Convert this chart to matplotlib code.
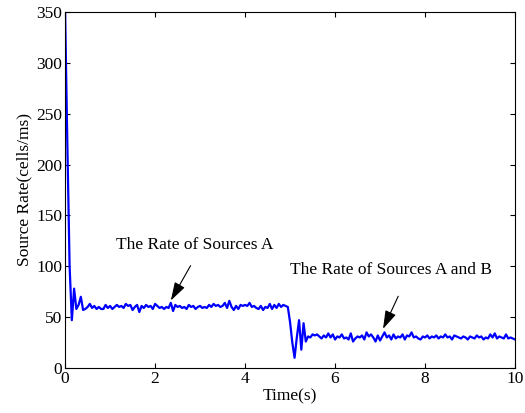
#!/usr/bin/env python3

import numpy as np
import matplotlib
matplotlib.use("Agg")
import matplotlib.pyplot as plt


# sampled every 0.05 s from 0 to 10 s
DT = 0.05
RATE = [
    350, 220, 100, 47, 78, 58, 62, 70, 57, 58,
    60, 63, 59, 61, 58, 60, 58, 58, 62, 59,
    61, 58, 60, 62, 60, 61, 59, 63, 61, 62,
    57, 60, 62, 55, 61, 59, 62, 60, 61, 58,
    63, 61, 59, 60, 58, 60, 59, 64, 56, 62,
    60, 61, 59, 60, 58, 62, 60, 61, 58, 60,
    61, 59, 60, 59, 62, 60, 63, 61, 62, 60,
    61, 64, 59, 66, 60, 57, 61, 58, 62, 61,
    62, 61, 64, 60, 61, 59, 58, 61, 57, 60,
    59, 63, 58, 62, 59, 63, 60, 62, 61, 60,
    45, 25, 10, 30, 47, 18, 44, 26, 31, 30,
    33, 32, 33, 31, 29, 32, 30, 34, 30, 33,
    28, 31, 30, 33, 29, 30, 28, 34, 26, 29,
    31, 30, 32, 28, 35, 31, 33, 30, 26, 32,
    27, 31, 35, 30, 32, 28, 33, 29, 31, 30,
    33, 28, 32, 31, 35, 30, 31, 29, 28, 31,
    30, 32, 29, 31, 30, 32, 29, 31, 30, 33,
    30, 31, 28, 32, 31, 30, 29, 31, 30, 28,
    31, 30, 29, 32, 30, 31, 28, 30, 29, 33,
    30, 34, 29, 31, 30, 29, 33, 29, 30, 29,
    28,
]

LABEL_A = "The Rate of Sources A"
LABEL_AB = "The Rate of Sources A and B"
# (text position, arrow tail, arrow head) in data units
NOTE_A = ((2.87, 121), (2.82, 103), (2.32, 64))
NOTE_AB = ((7.24, 96), (7.43, 73), (7.04, 36))


def main():
    plt.rcParams["font.family"] = ["Liberation Serif", "DejaVu Serif"]
    plt.rcParams["font.size"] = 12.5

    t = np.arange(len(RATE)) * DT

    fig = plt.figure(figsize=(5.25, 4.13), dpi=100)
    ax = fig.add_axes([0.124, 0.109, 0.857, 0.862])
    ax.plot(t, RATE, color="#0000ff", lw=1.6)

    for label, (pos, tail, head) in [(LABEL_A, NOTE_A), (LABEL_AB, NOTE_AB)]:
        ax.text(pos[0], pos[1], label, ha="center", va="center")
        ax.annotate("", xy=head, xytext=tail,
                    arrowprops=dict(arrowstyle="-|>,head_length=0.8,head_width=0.25",
                                    color="k", lw=0.8, mutation_scale=14))

    ax.set_xlim(0, 10)
    ax.set_ylim(0, 350)
    ax.set_xticks(range(0, 11, 2))
    ax.set_yticks(range(0, 351, 50))
    ax.tick_params(direction="in", top=True, right=True, length=3.5, width=0.8,
                   pad=2)
    for s in ax.spines.values():
        s.set_linewidth(0.8)
    ax.set_xlabel("Time(s)", labelpad=1)
    ax.set_ylabel("Source Rate(cells/ms)", labelpad=3)

    fig.savefig("out.png", dpi=100)


if __name__ == "__main__":
    main()
